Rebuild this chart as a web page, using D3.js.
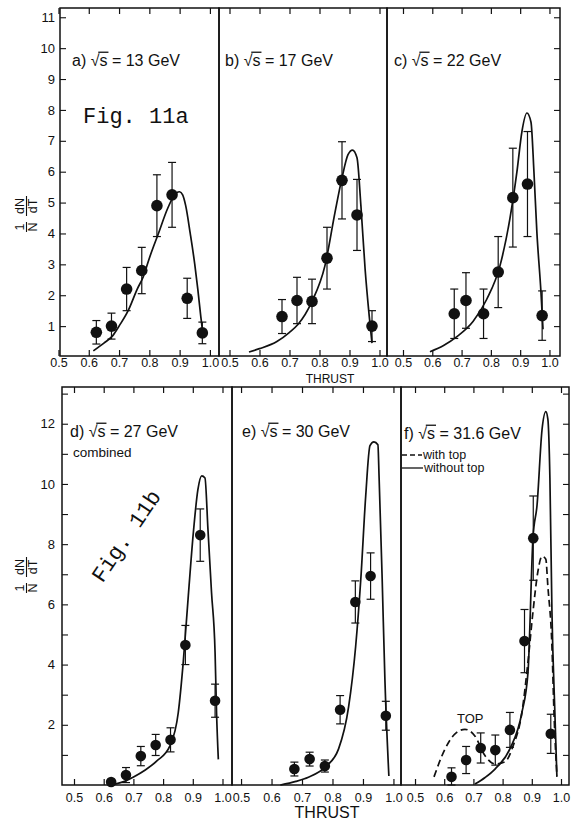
<!DOCTYPE html>
<html><head><meta charset="utf-8">
<script src="https://cdn.jsdelivr.net/npm/d3@7"></script>
<style>body{margin:0;background:#fff}svg{display:block}</style>
</head><body>
<svg id="c" width="582" height="823"></svg>
<script>
// ---------------- DATA ----------------
const titles = ["a) √s = 13 GeV", "b) √s = 17 GeV", "c) √s = 22 GeV", "d) √s = 27 GeV", "e) √s = 30 GeV", "f) √s = 31.6 GeV"];
const xTicks = [0.5, 0.6, 0.7, 0.8, 0.9, 1.0];
const yTicksTop = [1, 2, 3, 4, 5, 6, 7, 8, 9, 10, 11];
const yTicksBottom = [1, 2, 3, 4, 5, 6, 7, 8, 9, 10, 11, 12, 13];
const yLabelsBottom = [2, 4, 6, 8, 10, 12];

// a) 13 GeV
const thrustA = [0.625, 0.675, 0.725, 0.775, 0.825, 0.875, 0.925, 0.975];
const valA = [0.8, 1.0, 2.2, 2.8, 4.9, 5.25, 1.9, 0.78];
const errA = [0.38, 0.42, 0.7, 0.75, 1.0, 1.05, 0.65, 0.35];
const curveTA = [0.615, 0.65, 0.68, 0.70, 0.73, 0.76, 0.78, 0.80, 0.83, 0.86, 0.88, 0.89, 0.90, 0.91, 0.92, 0.935, 0.95, 0.96, 0.97, 0.975];
const curveYA = [0.2, 0.45, 0.7, 1.0, 1.5, 2.2, 2.6, 3.2, 4.0, 4.8, 5.2, 5.32, 5.35, 5.25, 4.9, 4.0, 3.0, 2.2, 1.3, 0.9];

// b) 17 GeV
const thrustB = [0.675, 0.725, 0.775, 0.825, 0.875, 0.925, 0.975];
const valB = [1.31, 1.83, 1.8, 3.2, 5.72, 4.6, 1.0];
const errB = [0.55, 0.75, 0.72, 1.0, 1.25, 1.15, 0.5];
const curveTB = [0.565, 0.60, 0.658, 0.70, 0.728, 0.775, 0.818, 0.852, 0.875, 0.895, 0.91, 0.925, 0.938, 0.952, 0.966, 0.975];
const curveYB = [0.16, 0.27, 0.5, 0.8, 1.05, 1.8, 2.95, 4.7, 5.8, 6.55, 6.7, 6.45, 4.9, 2.85, 1.3, 0.45];

// c) 22 GeV
const thrustC = [0.675, 0.715, 0.775, 0.825, 0.875, 0.925, 0.975];
const valC = [1.4, 1.83, 1.4, 2.75, 5.16, 5.6, 1.34];
const errC = [0.8, 0.9, 0.8, 1.15, 1.6, 1.7, 0.8];
const curveTC = [0.592, 0.64, 0.684, 0.739, 0.786, 0.831, 0.865, 0.889, 0.906, 0.923, 0.937, 0.947, 0.957, 0.971, 0.978];
const curveYC = [0.17, 0.38, 0.66, 1.15, 1.87, 2.95, 4.48, 6.0, 7.3, 7.9, 7.6, 6.0, 4.05, 2.1, 0.9];

// d) 27 GeV combined
const thrustD = [0.625, 0.675, 0.725, 0.775, 0.825, 0.875, 0.925, 0.975];
const valD = [0.1, 0.33, 0.96, 1.33, 1.5, 4.65, 8.3, 2.8];
const errD = [0.08, 0.25, 0.32, 0.35, 0.4, 0.65, 0.87, 0.55];
const curveTD = [0.638, 0.67, 0.699, 0.74, 0.779, 0.823, 0.851, 0.868, 0.885, 0.902, 0.917, 0.93, 0.941, 0.951, 0.963, 0.975, 0.98, 0.986];
const curveYD = [0.03, 0.12, 0.26, 0.5, 0.8, 1.3, 2.4, 4.1, 6.3, 8.4, 9.8, 10.27, 10.2, 8.5, 6.4, 4.4, 2.4, 0.85];

// e) 30 GeV
const thrustE = [0.675, 0.725, 0.775, 0.825, 0.875, 0.925, 0.975];
const valE = [0.53, 0.86, 0.63, 2.5, 6.08, 6.94, 2.3];
const errE = [0.23, 0.23, 0.2, 0.47, 0.7, 0.77, 0.48];
const curveTE = [0.629, 0.68, 0.721, 0.777, 0.82, 0.853, 0.876, 0.893, 0.909, 0.923, 0.936, 0.949, 0.953, 0.963, 0.972, 0.985];
const curveYE = [0.0, 0.12, 0.26, 0.6, 1.2, 2.6, 4.6, 6.85, 9.6, 11.27, 11.4, 11.3, 10.2, 6.85, 3.5, 0.3];

// f) 31.6 GeV
const thrustF = [0.625, 0.675, 0.725, 0.775, 0.825, 0.875, 0.905, 0.965];
const valF = [0.27, 0.83, 1.23, 1.16, 1.83, 4.78, 8.2, 1.7];
const errF = [0.3, 0.45, 0.5, 0.5, 0.58, 1.05, 1.4, 0.65];
const curveTFno = [0.705, 0.74, 0.774, 0.825, 0.866, 0.887, 0.904, 0.918, 0.935, 0.948, 0.955, 0.962, 0.969, 0.979, 0.986];
const curveYFno = [0.03, 0.25, 0.53, 1.2, 2.4, 3.75, 8.2, 9.3, 11.8, 12.4, 12.15, 10.2, 5.75, 2.4, 0.27];
const curveTFtop = [0.565, 0.603, 0.637, 0.671, 0.705, 0.74, 0.774, 0.808, 0.836, 0.866, 0.887, 0.904, 0.921, 0.935, 0.948, 0.955, 0.969, 0.976, 0.986];
const curveYFtop = [0.27, 1.2, 1.7, 1.85, 1.63, 0.97, 0.7, 0.77, 1.3, 2.4, 4.1, 5.75, 7.1, 7.6, 7.5, 6.6, 4.6, 2.4, 0.3];

// ---------------- DRAWING ----------------
const svg = d3.select("#c");
svg.append("rect").attr("width", 582).attr("height", 823).attr("fill", "#fff");
const SANS = "'Liberation Sans', Arial, Helvetica, sans-serif";
const MONO = "'Liberation Mono', 'DejaVu Sans Mono', monospace";
const INK = "#111";

const rows = {
  top: { top: 8, bot: 356, y: d3.scaleLinear().domain([0, 11.3]).range([357, 8]) },
  bottom: { top: 387, bot: 785, y: d3.scaleLinear().domain([0, 13.22]).range([785, 387]) }
};

const panels = [
  { row: "top", x0: 60, x1: 219, dom: [0.505, 1.03], t: thrustA, v: valA, e: errA,
    curves: [{ t: curveTA, y: curveYA }], title: titles[0], tx: 72, ty: 66, left: true },
  { row: "top", x0: 219, x1: 387, dom: [0.465, 1.025], t: thrustB, v: valB, e: errB,
    curves: [{ t: curveTB, y: curveYB }], title: titles[1], tx: 225, ty: 66 },
  { row: "top", x0: 387, x1: 560, dom: [0.4454, 1.036], t: thrustC, v: valC, e: errC,
    curves: [{ t: curveTC, y: curveYC }], title: titles[2], tx: 394, ty: 66, right: true },
  { row: "bottom", x0: 62, x1: 232, dom: [0.4596, 1.032], t: thrustD, v: valD, e: errD,
    curves: [{ t: curveTD, y: curveYD }], title: titles[3], tx: 70, ty: 437, left: true },
  { row: "bottom", x0: 232, x1: 401, dom: [0.4703, 1.0248], t: thrustE, v: valE, e: errE,
    curves: [{ t: curveTE, y: curveYE }], title: titles[4], tx: 242, ty: 437 },
  { row: "bottom", x0: 401, x1: 569, dom: [0.452, 1.0274], t: thrustF, v: valF, e: errF,
    curves: [{ t: curveTFno, y: curveYFno }, { t: curveTFtop, y: curveYFtop, dash: "7,4" }],
    title: titles[5], tx: 404, ty: 439, right: true }
];

function drawTitle(g, text, x, y, fs) {
  const parts = text.split("√s");
  const t = g.append("text").attr("x", x).attr("y", y)
    .attr("font-family", SANS).attr("font-size", fs).attr("fill", INK);
  t.append("tspan").text(parts[0] + "√");
  t.append("tspan").text("s");
  t.append("tspan").text(parts[1]);
  const node = t.node();
  const pre = (parts[0] + "√").length;
  const sqrtEnd = node.getSubStringLength(0, pre);
  const sEnd = node.getSubStringLength(0, pre + 1);
  g.append("line")
    .attr("x1", x + sqrtEnd - 1.2).attr("x2", x + sEnd + 1)
    .attr("y1", y - fs * 0.86).attr("y2", y - fs * 0.86)
    .attr("stroke", INK).attr("stroke-width", 1.3);
}

panels.forEach(p => {
  const R = rows[p.row];
  const x = d3.scaleLinear().domain(p.dom).range([p.x0, p.x1]);
  const y = R.y;
  const g = svg.append("g");

  const bax = g.append("g").attr("transform", `translate(0,${R.bot})`)
    .call(d3.axisBottom(x).tickValues(xTicks).tickSize(-6)
      .tickPadding(p.row === "top" ? 2 : 8).tickFormat(d3.format(".1f")));
  const tax = g.append("g").attr("transform", `translate(0,${R.top})`)
    .call(d3.axisTop(x).tickValues(xTicks).tickSize(-6).tickFormat(""));
  [bax, tax].forEach(a => {
    a.select(".domain").remove();
    a.selectAll("line").attr("stroke", INK).attr("stroke-width", 1.2);
    a.selectAll("text").attr("font-family", SANS).attr("font-size", 12.5).attr("fill", INK);
  });

  if (p.left) {
    const vals = p.row === "top" ? yTicksTop : yTicksBottom;
    const lax = g.append("g").attr("transform", `translate(${p.x0},0)`)
      .call(d3.axisLeft(y).tickValues(vals).tickSize(-6)
        .tickPadding(p.row === "top" ? 5 : 7)
        .tickFormat(d => p.row === "top" || yLabelsBottom.includes(d) ? d3.format("d")(d) : ""));
    lax.select(".domain").remove();
    lax.selectAll("line").attr("stroke", INK).attr("stroke-width", 1.1);
    lax.selectAll("text").attr("font-family", SANS).attr("font-size", 13).attr("fill", INK);
  }
  if (p.right) {
    const vals = p.row === "top" ? yTicksTop : yTicksBottom;
    const rax = g.append("g").attr("transform", `translate(${p.x1},0)`)
      .call(d3.axisRight(y).tickValues(vals).tickSize(-6).tickFormat(""));
    rax.select(".domain").remove();
    rax.selectAll("line").attr("stroke", INK).attr("stroke-width", 1.1);
  }

  g.append("rect").attr("x", p.x0).attr("y", R.top)
    .attr("width", p.x1 - p.x0).attr("height", R.bot - R.top)
    .attr("fill", "none").attr("stroke", INK).attr("stroke-width", 1.5);

  const line = d3.line().x(d => x(d[0])).y(d => y(d[1])).curve(d3.curveMonotoneX);
  p.curves.forEach(c => {
    g.append("path").datum(c.t.map((t, i) => [t, c.y[i]]))
      .attr("d", line).attr("fill", "none").attr("stroke", INK)
      .attr("stroke-width", 1.7).attr("stroke-dasharray", c.dash || null);
  });

  const pts = p.t.map((t, i) => ({ t, v: p.v[i], e: p.e[i] }));
  const eb = g.append("g").selectAll("g").data(pts).join("g");
  eb.append("line").attr("x1", d => x(d.t)).attr("x2", d => x(d.t))
    .attr("y1", d => y(Math.max(0, d.v - d.e))).attr("y2", d => y(d.v + d.e))
    .attr("stroke", INK).attr("stroke-width", 1.2);
  [1, -1].forEach(s => {
    eb.append("line").attr("x1", d => x(d.t) - 4).attr("x2", d => x(d.t) + 4)
      .attr("y1", d => y(Math.max(0, d.v + s * d.e))).attr("y2", d => y(Math.max(0, d.v + s * d.e)))
      .attr("stroke", INK).attr("stroke-width", 1.2);
  });
  eb.append("circle").attr("cx", d => x(d.t)).attr("cy", d => y(d.v))
    .attr("r", p.row === "top" ? 5.8 : 5.3).attr("fill", INK);

  drawTitle(g, p.title, p.tx, p.ty, 16);
});

svg.append("text").attr("x", 330).attr("y", 383).attr("text-anchor", "middle")
  .attr("font-family", SANS).attr("font-size", 12).attr("fill", INK).text("THRUST");
svg.append("text").attr("x", 327).attr("y", 818).attr("text-anchor", "middle")
  .attr("font-family", SANS).attr("font-size", 16).attr("fill", INK).text("THRUST");

function yLabel(cx, cy) {
  const g = svg.append("g").attr("transform", `translate(${cx},${cy}) rotate(-90)`)
    .attr("font-family", SANS).attr("font-size", 12.5).attr("fill", INK).attr("text-anchor", "middle");
  g.append("text").attr("x", -14).attr("y", -2.5).text("1");
  g.append("text").attr("x", -14).attr("y", 11).text("N");
  g.append("text").attr("x", 7).attr("y", -2.5).text("dN");
  g.append("text").attr("x", 7).attr("y", 11).text("dT");
  g.append("line").attr("x1", -19).attr("x2", -9).attr("y1", 0.5).attr("y2", 0.5).attr("stroke", INK).attr("stroke-width", 1.1);
  g.append("line").attr("x1", -3).attr("x2", 17).attr("y1", 0.5).attr("y2", 0.5).attr("stroke", INK).attr("stroke-width", 1.1);
}
yLabel(26, 213);
yLabel(26, 574);

svg.append("text").attr("x", 83).attr("y", 123).attr("font-family", MONO)
  .attr("font-size", 22).attr("fill", INK).text("Fig. 11a");
svg.append("text").attr("transform", "translate(132,540) rotate(-56)")
  .attr("text-anchor", "middle").attr("font-family", MONO)
  .attr("font-size", 22).attr("fill", INK).text("Fig. 11b");
svg.append("text").attr("x", 73).attr("y", 457).attr("font-family", SANS)
  .attr("font-size", 13.5).attr("fill", INK).text("combined");

svg.append("line").attr("x1", 402).attr("x2", 422).attr("y1", 455).attr("y2", 455)
  .attr("stroke", INK).attr("stroke-width", 1.3).attr("stroke-dasharray", "5,3");
svg.append("text").attr("x", 423).attr("y", 459).attr("font-family", SANS)
  .attr("font-size", 12.5).attr("fill", INK).text("with top");
svg.append("line").attr("x1", 402).attr("x2", 423).attr("y1", 468).attr("y2", 468)
  .attr("stroke", INK).attr("stroke-width", 1.3);
svg.append("text").attr("x", 424).attr("y", 472).attr("font-family", SANS)
  .attr("font-size", 12.5).attr("fill", INK).text("without top");
svg.append("text").attr("x", 457).attr("y", 723).attr("font-family", SANS)
  .attr("font-size", 13).attr("fill", INK).text("TOP");
</script>
</body></html>
